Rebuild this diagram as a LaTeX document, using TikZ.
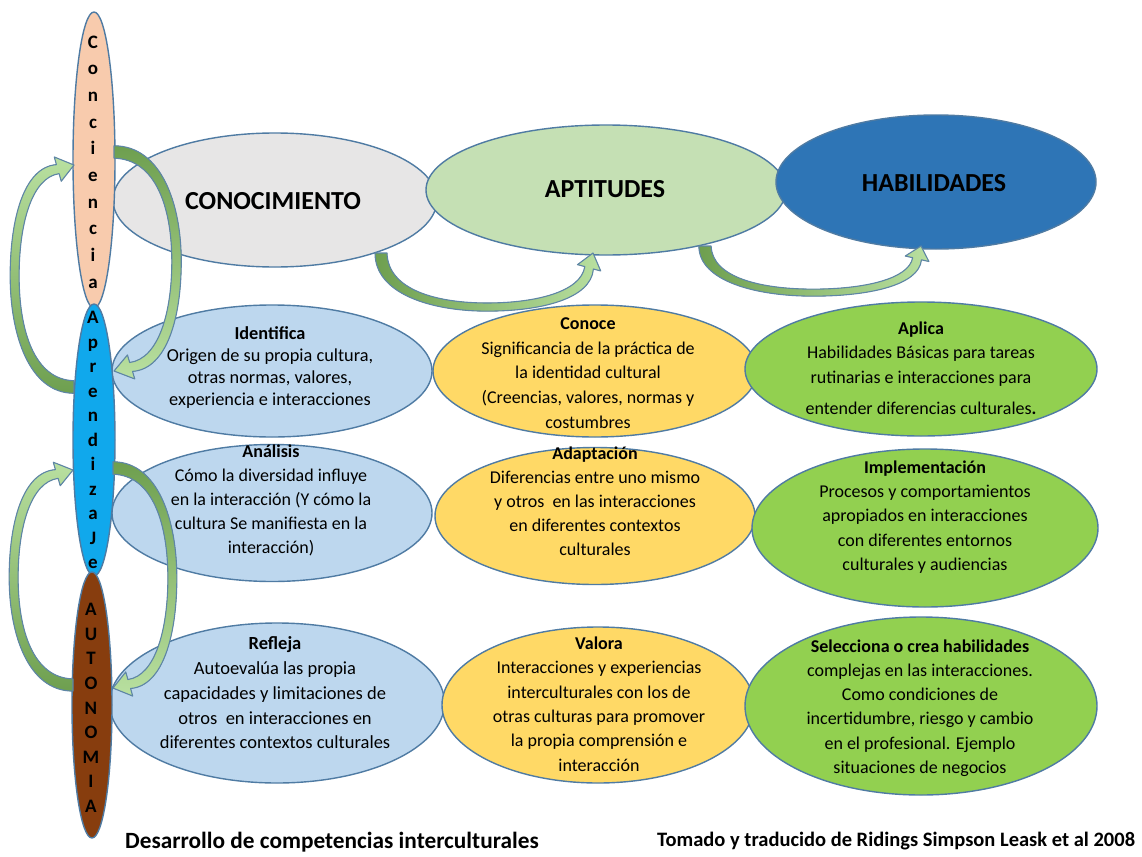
\documentclass[tikz,border=0pt]{standalone}
\usepackage{fontspec}
\setmainfont{Carlito}
\usetikzlibrary{shapes.geometric}
\definecolor{edgec}{HTML}{4F7BA3}
\definecolor{grayf}{HTML}{E7E6E6}
\definecolor{aptf}{HTML}{C5E0B4}
\definecolor{habf}{HTML}{2E75B6}
\definecolor{bluef}{HTML}{BDD7EE}
\definecolor{yellf}{HTML}{FFD966}
\definecolor{greenf}{HTML}{92D050}
\definecolor{concf}{HTML}{F8CBAD}
\definecolor{aprf}{HTML}{10A8EC}
\definecolor{autf}{HTML}{873D0E}
\definecolor{arrdark}{HTML}{6E9F4F}
\definecolor{arrlight}{HTML}{B9E0A0}
\definecolor{arredge}{HTML}{5E86A6}
\newcommand{\curvedarrow}[1]{%
  \filldraw[arrsty,#1] (-6,0) .. controls (-6,40) and (50,57) .. (106,57)
    .. controls (160,57) and (210,45) .. (212.4,15.7) -- (219.7,17.6) -- (212,0)
    -- (196.5,11.4) -- (203.8,13.3) .. controls (200,38) and (155,49) .. (106,49)
    .. controls (55,49) and (7,36) .. (6,0) -- cycle;}
\begin{document}
\begin{tikzpicture}[x=1pt,y=-1pt,
  ell/.style={ellipse, draw=edgec, line width=1.4pt, inner sep=0pt},
  body/.style={align=center, inner sep=0pt, text=black},
  vlet/.style={align=center, inner sep=0pt, text=black},
  big/.style={inner sep=0pt, font=\bfseries\fontsize{26}{30}\selectfont},
  arrsty/.style={draw=arredge, line width=1.1pt, line join=round}]
\useasboundingbox (0,0) rectangle (1142,856);
\fill[white] (0,0) rectangle (1142,856);

% top row
\node[ell, fill=grayf, minimum width=324pt, minimum height=134pt] (conoc) at (275,200) {};
\node[big] (conocT) at (273,201) {CONOCIMIENTO};
\node[ell, fill=aptf, minimum width=360pt, minimum height=130pt] (apt) at (606,190) {};
\node[big] (aptT) at (605,189) {APTITUDES};
\node[ell, fill=habf, minimum width=320pt, minimum height=134pt] (hab) at (936,182) {};
\node[big] (habT) at (934,183) {HABILIDADES};

% row 1
\node[ell, fill=bluef, minimum width=320pt, minimum height=132pt] (ident) at (272,371) {};
\node[body, font=\fontsize{18.3}{22}\selectfont] (identT) at (270,368)
  {\textbf{Identifica}\\Origen de su propia cultura,\\otras normas, valores,\\experiencia e interacciones};
\node[ell, fill=yellf, minimum width=324pt, minimum height=132pt] (conoce) at (595,371) {};
\node[body, font=\fontsize{18}{24.75}\selectfont] (conoceT) at (588,373)
  {\textbf{Conoce}\\Significancia de la práctica de\\la identidad cultural\\(Creencias, valores, normas y\\costumbres};
\node[ell, fill=greenf, minimum width=352pt, minimum height=134pt] (aplica) at (921,369) {};
\node[body, font=\fontsize{18}{24.5}\selectfont] (aplicaT) at (921,368)
  {\textbf{Aplica}\\Habilidades Básicas para tareas\\rutinarias e interacciones para\\[7pt]entender diferencias culturales\textbf{.}};

% row 2
\node[ell, fill=bluef, minimum width=320pt, minimum height=137pt] (anal) at (272,513) {};
\node[body, font=\fontsize{18}{24}\selectfont] (analT) at (271,500)
  {\textbf{Análisis}\\Cómo la diversidad influye\\en la interacción (Y cómo la\\cultura Se manifiesta en la\\interacción)};
\node[ell, fill=yellf, minimum width=320pt, minimum height=137pt] (adapt) at (595,516) {};
\node[body, font=\fontsize{18}{24}\selectfont] (adaptT) at (595,501)
  {\textbf{Adaptación}\\Diferencias entre uno mismo\\y otros~ en las interacciones\\en diferentes contextos\\culturales};
\node[ell, fill=greenf, minimum width=346pt, minimum height=158pt] (impl) at (925,528) {};
\node[body, font=\fontsize{18}{24.25}\selectfont] (implT) at (925,517)
  {\textbf{Implementación}\\Procesos y comportamientos\\apropiados en interacciones\\con diferentes entornos\\culturales y audiencias};

% row 3
\node[ell, fill=bluef, minimum width=335pt, minimum height=160pt] (refl) at (277,703) {};
\node[body, font=\fontsize{18.5}{24.75}\selectfont] (reflT) at (275,693)
  {\textbf{Refleja}\\Autoevalúa las propia\\capacidades y limitaciones de\\otros~ en interacciones en\\diferentes contextos culturales};
\node[ell, fill=yellf, minimum width=312pt, minimum height=156pt] (valora) at (598,705) {};
\node[body, font=\fontsize{18}{24.4}\selectfont] (valoraT) at (599,704)
  {\textbf{Valora}\\Interacciones y experiencias\\interculturales con los de\\otras culturas para promover\\la propia comprensión e\\interacción};
\node[ell, fill=greenf, minimum width=352pt, minimum height=178pt] (selec) at (921,706) {};
\node[body, font=\fontsize{18}{24.2}\selectfont] (selecT) at (920,708)
  {\textbf{Selecciona o crea habilidades}\\complejas en las interacciones.\\Como condiciones de\\incertidumbre, riesgo y cambio\\en el profesional. Ejemplo\\situaciones de negocios};

% vertical ellipses
\node[ell, fill=concf, minimum width=42pt, minimum height=296pt] (conc) at (94,160) {};
\node[vlet, font=\bfseries\fontsize{19}{26.7}\selectfont] (concT) at (93,162)
  {C\\o\\n\\c\\i\\e\\n\\c\\i\\a};
\node[ell, fill=aprf, minimum width=42pt, minimum height=272pt] (apren) at (94,440) {};
\node[vlet, font=\bfseries\fontsize{19}{24.5}\selectfont] (aprenT) at (93,440)
  {A\\p\\r\\e\\n\\d\\i\\z\\a\\J\\e};
\node[ell, fill=autf, minimum width=40pt, minimum height=266pt] (auton) at (92,705) {};
\node[vlet, font=\bfseries\fontsize{19}{24.6}\selectfont] (autonT) at (91,708)
  {A\\U\\T\\O\\N\\O\\M\\I\\A};

% curved arrows
\begin{scope}[cm={1,0,0,1.02,(381,253)}]
  \curvedarrow{left color=arrdark, right color=arrlight}
\end{scope}
\begin{scope}[cm={1.019,0,0,0.88,(705,246)}]
  \curvedarrow{left color=arrdark, right color=arrlight}
\end{scope}
\begin{scope}[cm={0,1.047,1.12,0,(74,387)}]
  \curvedarrow{bottom color=arrdark, top color=arrlight}
\end{scope}
\begin{scope}[cm={0,-1.033,-1.18,0,(114,152)}]
  \curvedarrow{top color=arrdark, bottom color=arrlight}
\end{scope}
\begin{scope}[cm={0,1.014,1.12,0,(73,685)}]
  \curvedarrow{bottom color=arrdark, top color=arrlight}
\end{scope}
\begin{scope}[cm={0,-1.038,-1.12,0,(113,468)}]
  \curvedarrow{top color=arrdark, bottom color=arrlight}
\end{scope}

% captions
\node[inner sep=0pt, anchor=base west, font=\bfseries\fontsize{23.3}{26}\selectfont] (title) at (125,848)
  {Desarrollo de competencias interculturales};
\node[inner sep=0pt, anchor=base west, font=\bfseries\fontsize{20.5}{24}\selectfont] (source) at (657,846)
  {Tomado y traducido de Ridings Simpson Leask et al 2008};
\end{tikzpicture}
\end{document}
